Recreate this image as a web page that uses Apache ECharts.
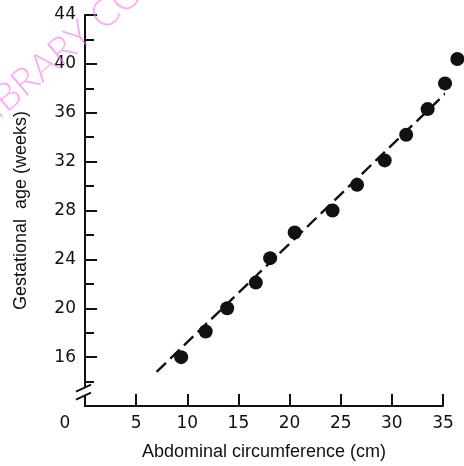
<!DOCTYPE html>
<html>
<head>
<meta charset="utf-8">
<script src="https://cdn.jsdelivr.net/npm/echarts@6/dist/echarts.min.js"></script>
<style>
    html, body { margin: 0; padding: 0; background: #fff; }
    #chart { width: 464px; height: 466px; }
</style>
</head>
<body>
<div id="chart"></div>
<script>
// 腹围 (cm) / 孕周
var circumference = [9.4, 11.8, 13.9, 16.7, 18.1, 20.5, 24.2, 26.6, 29.3, 31.4, 33.5, 35.2, 36.4];
var gestAge = [16.0, 18.1, 20.0, 22.1, 24.1, 26.2, 28.0, 30.1, 32.1, 34.2, 36.3, 38.4, 40.4];

// 回归线两端
var fitX = [7.0, 37.0];
var fitY = [14.8, 39.0];

// 刻度
var xMin = 0, xMax = 35, xStep = 5;
var yMin = 12, yMax = 44, yStep = 4, yMinorStep = 2;
var yFirstLabel = 16;

function pairs(xs, ys){
    var out = [];
    for (var i = 0; i < xs.length; i++) {
        out.push([xs[i], ys[i]]);
    }
    return out;
}

var ink = '#111';
var numFont = 'DejaVu Sans';
var nameFont = 'Liberation Sans';

var option = {
    animation: false,
    backgroundColor: '#fff',
    grid: {
        left: 85,
        right: 21,
        top: 15,
        bottom: 54
    },
    xAxis: {
        type: 'value',
        min: xMin,
        max: xMax,
        interval: xStep,
        name: 'Abdominal circumference (cm)',
        nameLocation: 'middle',
        nameGap: 37,
        nameTextStyle: { color: ink, fontFamily: nameFont, fontSize: 18 },
        splitLine: { show: false },
        axisLine: { lineStyle: { color: ink, width: 2 } },
        axisTick: {
            inside: true,
            length: 12,
            lineStyle: { color: ink, width: 2 }
        },
        axisLabel: {
            margin: 9,
            color: ink,
            fontFamily: numFont,
            fontSize: 17,
            formatter: function(v){
                return v === 0 ? '{z|0}' : String(v);
            },
            rich: {
                z: { padding: [0, 40, 0, 0], fontFamily: numFont, fontSize: 17, color: ink }
            }
        }
    },
    yAxis: [
        {
            type: 'value',
            min: yMin,
            max: yMax,
            interval: yStep,
            name: 'Gestational  age (weeks)',
            nameLocation: 'middle',
            nameGap: 55,
            nameTextStyle: { color: ink, fontFamily: nameFont, fontSize: 18 },
            splitLine: { show: false },
            axisLine: { lineStyle: { color: ink, width: 2 } },
            axisTick: {
                inside: true,
                length: 12,
                lineStyle: { color: ink, width: 2 }
            },
            axisLabel: {
                margin: 9,
                color: ink,
                fontFamily: numFont,
                fontSize: 17,
                formatter: function(v){
                    return v < yFirstLabel ? '' : String(v);
                }
            }
        },
        {
            type: 'value',
            min: yMin,
            max: yMax,
            interval: yMinorStep,
            position: 'left',
            splitLine: { show: false },
            axisLine: { show: false },
            axisTick: {
                inside: true,
                length: 9,
                lineStyle: { color: ink, width: 2 }
            },
            axisLabel: { show: false }
        }
    ],
    series: [
        {
            type: 'line',
            data: pairs(fitX, fitY),
            symbol: 'none',
            clip: false,
            z: 2,
            lineStyle: { color: ink, width: 2.4, type: [13, 6] }
        },
        {
            type: 'scatter',
            data: pairs(circumference, gestAge),
            symbolSize: 14,
            clip: false,
            z: 3,
            itemStyle: { color: ink, opacity: 1 }
        }
    ]
};

var chart = echarts.init(document.getElementById('chart'));
chart.setOption(option);

// 断轴标记 + 水印
var ax = chart.convertToPixel({ xAxisIndex: 0 }, 0);
var b1 = chart.convertToPixel({ yAxisIndex: 0 }, 13.5);
var b2 = chart.convertToPixel({ yAxisIndex: 0 }, 12.85);

chart.setOption({
    graphic: [
        {
            type: 'rect',
            shape: { x: ax - 3, y: b1, width: 6, height: b2 - b1 },
            style: { fill: '#fff' },
            z: 10
        },
        {
            type: 'line',
            shape: { x1: ax - 9, y1: b1 + 4, x2: ax + 6, y2: b1 - 3 },
            style: { stroke: ink, lineWidth: 2 },
            z: 11
        },
        {
            type: 'line',
            shape: { x1: ax - 9, y1: b2 + 4, x2: ax + 6, y2: b2 - 3 },
            style: { stroke: ink, lineWidth: 2 },
            z: 11
        },
        {
            type: 'text',
            x: -24,
            y: 123,
            rotation: 0.70,
            z: 20,
            style: {
                text: 'LIBRARY COPY',
                fill: 'rgba(255,110,240,0.6)',
                font: '300 38px Lato',
                textVerticalAlign: 'middle'
            }
        }
    ]
});
</script>
</body>
</html>
